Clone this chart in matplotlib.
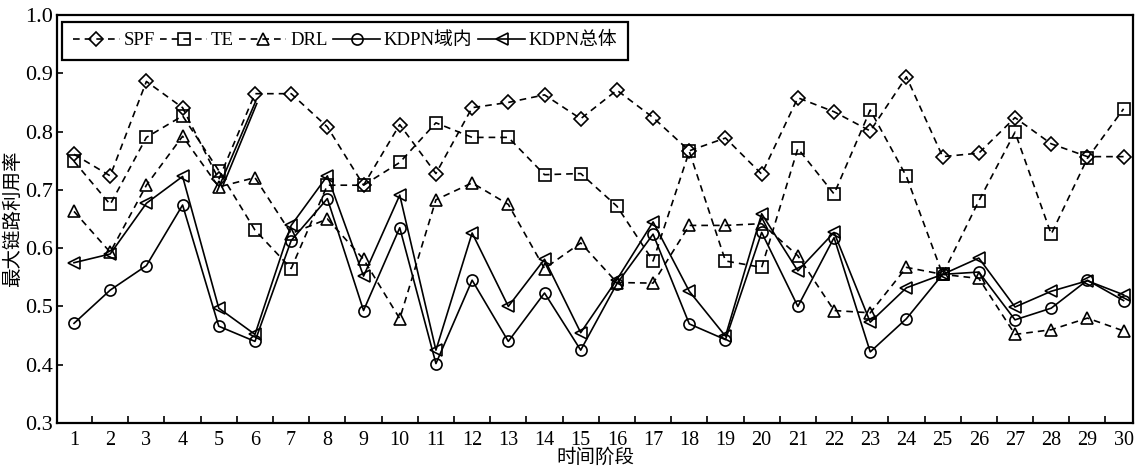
import matplotlib
matplotlib.use('Agg')
import matplotlib.pyplot as plt

plt.rcParams['font.family'] = ['Liberation Serif', 'Noto Sans CJK SC']

# 时间阶段 1..30
stages = list(range(1, 31))

spf = [0.761, 0.724, 0.886, 0.841, 0.718, 0.865, 0.865, 0.808, 0.708, 0.812,
       0.728, 0.841, 0.850, 0.863, 0.822, 0.871, 0.824, 0.767, 0.789, 0.727,
       0.858, 0.834, 0.801, 0.894, 0.757, 0.763, 0.824, 0.779, 0.757, 0.757]
te = [0.749, 0.675, 0.790, 0.827, 0.733, 0.631, 0.565, 0.708, 0.708, 0.747,
      0.815, 0.790, 0.790, 0.726, 0.728, 0.672, 0.578, 0.766, 0.578, 0.567,
      0.771, 0.693, 0.837, 0.723, 0.555, 0.681, 0.799, 0.624, 0.754, 0.839]
drl = [0.663, 0.593, 0.708, 0.792, 0.705, 0.721, 0.625, 0.650, 0.581, 0.479,
       0.683, 0.712, 0.675, 0.565, 0.609, 0.541, 0.540, 0.639, 0.639, 0.642,
       0.587, 0.493, 0.489, 0.567, 0.555, 0.548, 0.452, 0.460, 0.480, 0.458]
kdpn_in = [0.471, 0.528, 0.570, 0.674, 0.466, 0.440, 0.613, 0.685, 0.493, 0.635,
           0.402, 0.545, 0.440, 0.523, 0.425, 0.539, 0.624, 0.470, 0.443, 0.627,
           0.500, 0.618, 0.422, 0.479, 0.555, 0.559, 0.477, 0.497, 0.545, 0.510]
kdpn_all = [0.575, 0.590, 0.677, 0.723, 0.497, 0.452, 0.639, 0.724, 0.552, 0.691,
            0.425, 0.626, 0.500, 0.581, 0.455, 0.546, 0.645, 0.526, 0.449, 0.659,
            0.561, 0.627, 0.473, 0.532, 0.555, 0.583, 0.499, 0.526, 0.544, 0.520]

# 原图中 5~6 之间多出的两条实线
stray_x1 = [4.95, 6.02]
stray_y1 = [0.697, 0.852]
stray_x2 = [5.10, 6.05]
stray_y2 = [0.705, 0.848]

fig = plt.figure(figsize=(11.35, 4.69), dpi=100)
ax = fig.add_axes([57 / 1135, 46 / 469, 1076 / 1135, 408 / 469])

dash = (0, (4, 3))
kw = dict(color='black', linewidth=1.2, markersize=8, fillstyle='none',
          markeredgewidth=1.2)
ax.plot(stages, spf, linestyle=dash, marker='D', label='SPF', **{**kw, 'markersize': 7})
ax.plot(stages, te, linestyle=dash, marker='s', label='TE', **kw)
ax.plot(stages, drl, linestyle=dash, marker='^', label='DRL', **kw)
ax.plot(stages, kdpn_in, linestyle='-', marker='o', label='KDPN域内', **kw)
ax.plot(stages, kdpn_all, linestyle='-', marker='<', label='KDPN总体', **kw)
ax.plot(stray_x1, stray_y1, color='black', linewidth=1.2)
ax.plot(stray_x2, stray_y2, color='black', linewidth=1.2)

ax.set_xlim(0.53, 30.26)
ax.set_ylim(0.3, 1.0)
ax.set_xticks(stages)
ax.set_xticklabels([str(s) for s in stages])
ax.set_xticks([s + 0.5 for s in stages[:-1]], minor=True)
ax.tick_params(axis='x', which='major', length=0, labelsize=14.5, pad=6)
ax.tick_params(axis='x', which='minor', direction='in', length=5, width=1.2)
ax.set_yticks([0.3, 0.4, 0.5, 0.6, 0.7, 0.8, 0.9, 1.0])
ax.set_yticklabels(['0.3', '0.4', '0.5', '0.6', '0.7', '0.8', '0.9', '1.0'])
ax.tick_params(axis='y', direction='in', length=4, width=1.2, labelsize=16, pad=3)
for sp in ax.spines.values():
    sp.set_linewidth(1.6)

ax.set_xlabel('时间阶段', fontsize=14, labelpad=-1)
ax.set_ylabel('最大链路利用率', fontsize=14, labelpad=2)

leg = ax.legend(loc='upper left', bbox_to_anchor=(0.005, 0.983), ncol=5,
                fontsize=13.5, frameon=True, fancybox=False, framealpha=1,
                edgecolor='black', borderaxespad=0, handlelength=2.5,
                handletextpad=0.2, columnspacing=0.3, borderpad=0.55)
leg.get_frame().set_linewidth(1.6)

fig.savefig('out.png', dpi=100)
